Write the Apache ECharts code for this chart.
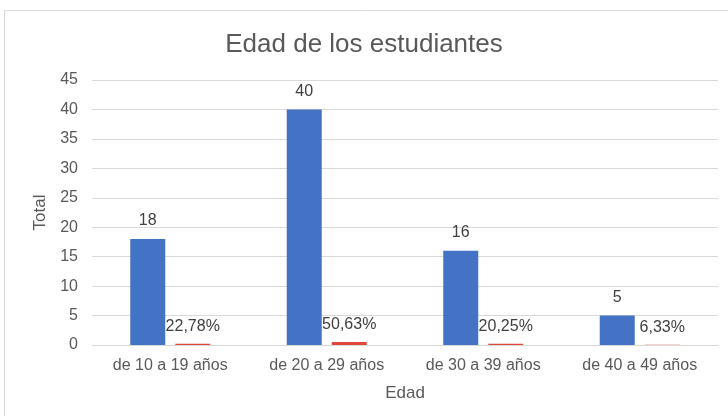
<!DOCTYPE html>
<html><head><meta charset="utf-8">
<script src="https://cdn.jsdelivr.net/npm/echarts@6/dist/echarts.min.js"></script>
<style>html,body{margin:0;padding:0;background:#fff}#c{width:728px;height:416px}</style>
</head><body><div id="c"></div>
<script>
const categories = ["de 10 a 19 años", "de 20 a 29 años", "de 30 a 39 años", "de 40 a 49 años"];
const totals = [18, 40, 16, 5];
const percents = [0.2278, 0.5063, 0.2025, 0.0633];
const percentLabels = ["22,78%", "50,63%", "20,25%", "6,33%"];
const yTicks = {min: 0, max: 45, interval: 5};

const chart = echarts.init(document.getElementById('c'));
const font = 'Liberation Sans, Arial, sans-serif';
chart.setOption({
  animation: false,
  backgroundColor: '#fff',
  textStyle: {fontFamily: font},
  graphic: [{type: 'rect', shape: {x: 4.5, y: 10.5, width: 740, height: 420}, style: {fill: 'none', stroke: '#d9d9d9', lineWidth: 1}, z: -1}],
  title: {text: 'Edad de los estudiantes', left: 'center', top: 27,
    textStyle: {fontFamily: font, fontSize: 26, fontWeight: 'normal', color: '#595959'}},
  grid: {left: 92, right: 10, top: 80, bottom: 71},
  xAxis: {type: 'category', data: categories,
    name: 'Edad', nameLocation: 'middle', nameGap: 40,
    nameTextStyle: {fontSize: 17, color: '#595959', fontFamily: font},
    axisLine: {lineStyle: {color: '#d9d9d9'}}, axisTick: {show: false},
    axisLabel: {fontSize: 16, color: '#595959', margin: 13, fontFamily: font}},
  yAxis: {type: 'value', min: yTicks.min, max: yTicks.max, interval: yTicks.interval,
    name: 'Total', nameLocation: 'middle', nameGap: 41,
    nameTextStyle: {fontSize: 17, color: '#595959', fontFamily: font},
    axisLine: {show: false}, axisTick: {show: false},
    splitLine: {lineStyle: {color: '#d9d9d9'}},
    axisLabel: {fontSize: 16, color: '#595959', margin: 14, fontFamily: font}},
  series: [
    {type: 'bar', data: totals, barWidth: 35, barGap: '28.6%',
      itemStyle: {color: '#4472c4'},
      label: {show: true, position: 'top', distance: 10, fontSize: 16, color: '#404040', fontFamily: font}},
    {type: 'bar', data: percents, barWidth: 35,
      itemStyle: {color: '#e2473b'},
      label: {show: true, position: 'top', distance: 9, fontSize: 16, color: '#404040', fontFamily: font,
        formatter: p => percentLabels[p.dataIndex]}}
  ]
});
</script></body></html>
